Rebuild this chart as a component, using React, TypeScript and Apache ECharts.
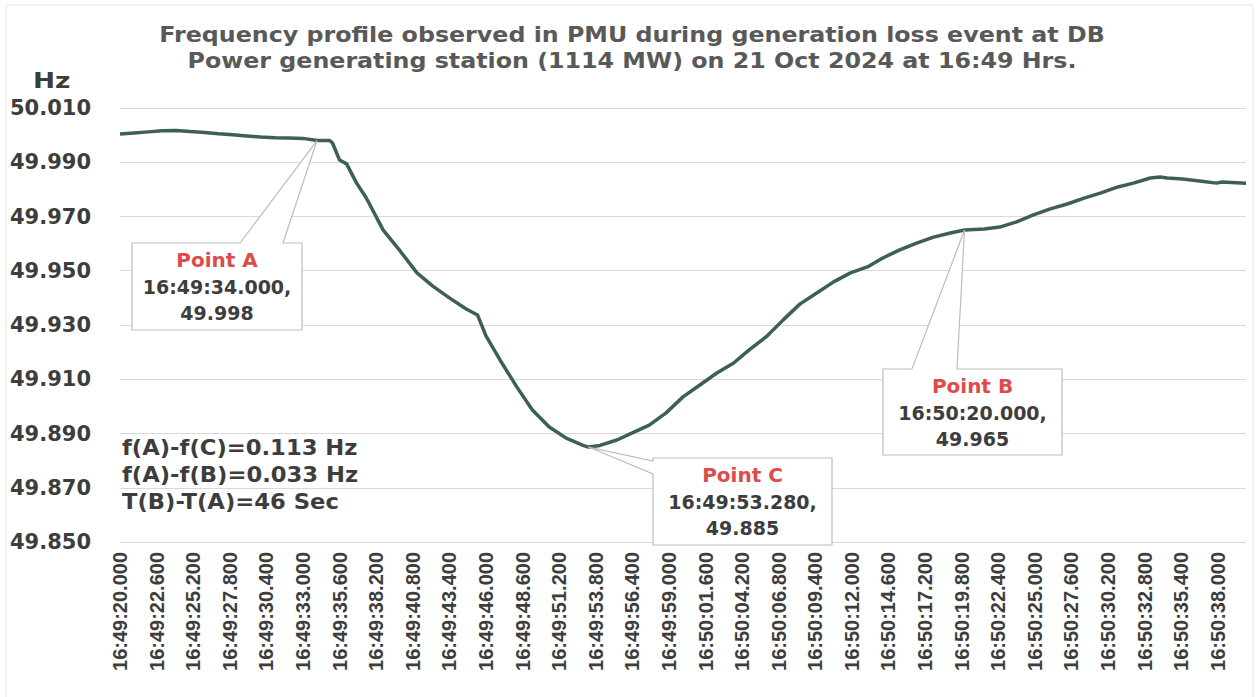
import React, { useEffect, useRef } from "react";
import * as echarts from "echarts";

// seconds after 16:49:20.000
const times = [0, 1, 2, 3, 4, 5, 6, 7, 8, 9, 10, 11, 12, 13, 14, 14.9, 15.1, 15.6, 16.1, 16.8, 17.5, 18.7, 19.9, 21.1, 22.2, 23.4, 24.6, 25.4, 26.0, 27.0, 28.2, 29.3, 30.5, 31.7, 32.9, 33.28, 34.1, 35.3, 36.4, 37.6, 38.8, 40.0, 41.2, 42.4, 43.6, 44.7, 45.9, 47.1, 48.3, 49.5, 50.7, 51.9, 53.1, 54.2, 55.4, 56.6, 57.8, 59.0, 60.0, 61.4, 62.5, 63.7, 64.9, 66.1, 67.3, 68.5, 69.7, 70.9, 72.0, 73.2, 73.9, 74.4, 75.5, 76.7, 77.9, 78.3, 80];
const freq = [50.0004, 50.0008, 50.0012, 50.0016, 50.0017, 50.0013, 50.001, 50.0005, 50.0001, 49.9997, 49.9993, 49.999, 49.9989, 49.9988, 49.998, 49.998, 49.9971, 49.9908, 49.9894, 49.9824, 49.9768, 49.965, 49.9573, 49.9492, 49.9444, 49.94, 49.9359, 49.9337, 49.926, 49.9171, 49.9071, 49.8987, 49.8924, 49.8883, 49.8856, 49.885, 49.8856, 49.8876, 49.8902, 49.8931, 49.8976, 49.9035, 49.9079, 49.9123, 49.916, 49.9208, 49.9256, 49.9318, 49.9377, 49.9418, 49.9459, 49.9492, 49.9514, 49.9547, 49.9577, 49.9602, 49.9624, 49.9639, 49.965, 49.9654, 49.9661, 49.968, 49.9706, 49.9728, 49.9746, 49.9768, 49.9787, 49.9809, 49.9823, 49.9842, 49.9846, 49.9842, 49.9838, 49.9831, 49.9823, 49.9827, 49.9823];

const pointNames = ["Point A", "Point B", "Point C"];
const pointTimes = [14, 60, 33.28];
const pointFreqs = [49.998, 49.965, 49.885];

const titleLines = [
  "Frequency profile observed in PMU during generation loss event at DB",
  "Power generating station (1114 MW) on 21 Oct 2024 at 16:49 Hrs.",
];
const noteLines = ["f(A)-f(C)=0.113 Hz", "f(A)-f(B)=0.033 Hz", "T(B)-T(A)=46 Sec"];

const Y_MIN = 49.85;
const Y_MAX = 50.01;
const Y_STEP = 0.02;
const X_MIN = 0;
const X_MAX = 80;
const X_STEP = 2.6;
const LAST_TICK = 78;

function fmtTime(v: number): string {
  let total = 16 * 3600 + 49 * 60 + 20 + v;
  total = Math.round(total * 1000) / 1000;
  const h = Math.floor(total / 3600);
  const m = Math.floor((total - h * 3600) / 60);
  const s = total - h * 3600 - m * 60;
  return `${h}:${String(m).padStart(2, "0")}:${s.toFixed(3).padStart(6, "0")}`;
}

const BOLD = "bold";
const WIDE = "'DejaVu Sans', Verdana, sans-serif";

export default function App() {
  const ref = useRef<HTMLDivElement>(null);
  useEffect(() => {
    if (!ref.current) return;
    const chart = echarts.init(ref.current, null, { renderer: "svg" });
    chart.setOption({
      animation: false,
      backgroundColor: "#ffffff",
      grid: { left: 120, right: 11, top: 108, bottom: 155, containLabel: false },
      xAxis: {
        type: "value",
        min: X_MIN,
        max: X_MAX,
        interval: X_STEP,
        axisLine: { show: false },
        axisTick: { show: false },
        splitLine: { show: false },
        axisLabel: {
          rotate: 90,
          margin: 10,
          showMaxLabel: false,
          color: "#3d3d3d",
          fontFamily: "'Liberation Sans', Arial, sans-serif",
          fontWeight: BOLD,
          fontSize: 20,
          formatter: (v: number) => (v > LAST_TICK + 0.01 ? "" : fmtTime(v)),
        },
      },
      yAxis: {
        type: "value",
        min: Y_MIN,
        max: Y_MAX,
        interval: Y_STEP,
        axisLine: { show: false },
        axisTick: { show: false },
        splitLine: { show: true, lineStyle: { color: "#d9d9d9", width: 1 } },
        axisLabel: {
          margin: 29,
          color: "#3d3d3d",
          fontFamily: WIDE,
          fontWeight: BOLD,
          fontSize: 21,
          formatter: (v: number) => v.toFixed(3),
        },
      },
      series: [
        {
          type: "line",
          data: times.map((t, i) => [t, freq[i]]),
          showSymbol: false,
          symbol: "none",
          lineStyle: { color: "#3d5f55", width: 3.5 },
          z: 2,
        },
      ],
    });

    const anchors = pointTimes.map((t, i) =>
      chart.convertToPixel({ gridIndex: 0 }, [t, pointFreqs[i]]) as number[]
    );

    const boxStyle = { fill: "#ffffff", stroke: "#bdbdbd", lineWidth: 1.2 };
    const txt = (x: number, y: number, text: string, color: string, size: number, align = "center", scaleX = 1) => ({
      type: "text",
      x,
      y,
      scaleX,
      z: 110,
      style: {
        text,
        fill: color,
        font: `bold ${size}px ${WIDE}`,
        align,
        verticalAlign: "middle",
      },
    });

    // callout boxes [left, top, right, bottom]
    const A = [132, 243, 302, 330];
    const B = [883, 369, 1062, 455];
    const C = [653, 458, 832, 545];
    const [a, b, c] = anchors;

    const calloutA = [
      [A[0], A[1]], [240, A[1]], [a[0], a[1]], [283, A[1]], [A[2], A[1]], [A[2], A[3]], [A[0], A[3]],
    ];
    const calloutB = [
      [B[0], B[1]], [912, B[1]], [b[0], b[1]], [957, B[1]], [B[2], B[1]], [B[2], B[3]], [B[0], B[3]],
    ];
    const calloutC = [
      [C[0], C[1]], [C[2], C[1]], [C[2], C[3]], [C[0], C[3]], [C[0], 474], [c[0], c[1]], [C[0], 461],
    ];

    const labelBlock = (box: number[], i: number) => {
      const cx = (box[0] + box[2]) / 2;
      return [
        txt(cx, box[1] + 17, pointNames[i], "#dd4b4b", 20),
        txt(cx, box[1] + 43.5, fmtTime(pointTimes[i]) + ",", "#3d3d3d", 19),
        txt(cx, box[1] + 69.5, pointFreqs[i].toFixed(3), "#3d3d3d", 19),
      ];
    };

    chart.setOption({
      graphic: [
        {
          type: "polyline",
          z: 1,
          silent: true,
          shape: { points: [[6, 697], [6, 5], [1253, 5], [1253, 697]] },
          style: { stroke: "#e4e4e4", lineWidth: 1, fill: null },
        },
        txt(632, 34.5, titleLines[0], "#595959", 22, "center", 1.08),
        txt(632, 60, titleLines[1], "#595959", 22, "center", 1.08),
        txt(33, 80, "Hz", "#3d3d3d", 22, "left", 1.2),
        txt(122, 447.5, noteLines[0], "#3d3d3d", 21, "left", 1.08),
        txt(122, 474.5, noteLines[1], "#3d3d3d", 21, "left", 1.08),
        txt(122, 502, noteLines[2], "#3d3d3d", 21, "left", 1.08),
        { type: "polygon", z: 100, shape: { points: calloutA }, style: boxStyle },
        { type: "polygon", z: 100, shape: { points: calloutB }, style: boxStyle },
        { type: "polygon", z: 100, shape: { points: calloutC }, style: boxStyle },
        ...labelBlock(A, 0),
        ...labelBlock(B, 1),
        ...labelBlock(C, 2),
      ],
    });

    return () => chart.dispose();
  }, []);
  return (
    <div
      ref={ref}
      style={{ position: "fixed", left: 0, top: 0, width: 1257, height: 697, background: "#fff" }}
    />
  );
}
